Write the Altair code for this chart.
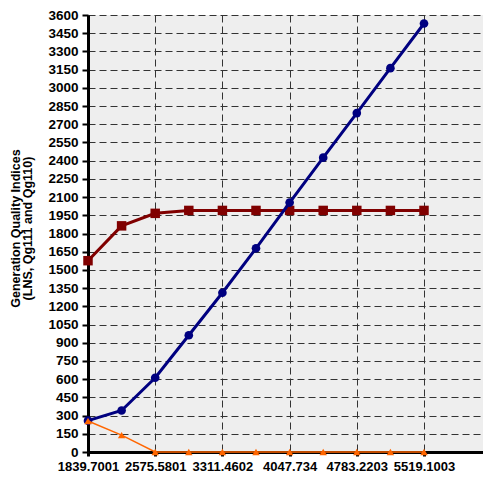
import altair as alt
import pandas as pd

x_vals = [1839.7001, 2207.64, 2575.5801, 2943.52, 3311.4602, 3679.40,
          4047.734, 4415.28, 4783.2203, 5151.16, 5519.1003]
lns = [258, 342, 612, 962, 1312, 1678, 2055, 2425, 2792, 3162, 3530]
qg111 = [1576, 1863, 1966, 1990, 1990, 1990, 1990, 1990, 1990, 1990, 1990]
qg110 = [255, 139, 0, 0, 0, 0, 0, 0, 0, 0, 0]
x_ticks = [1839.7001, 2575.5801, 3311.4602, 4047.734, 4783.2203, 5519.1003]
x_domain = [1839.7001, 6165.2]
y_ticks = list(range(0, 3601, 150))

series_names = ["Qg111", "LNS", "Qg110"]
series_vals = [qg111, lns, qg110]
colors = ["#800000", "#000080", "#FF6600"]
shapes = ["square", "circle", "triangle-up"]
sizes = [90, 75, 55]
widths = [3, 3, 1.5]

rows = []
for name, vals in zip(series_names, series_vals):
    for xv, yv in zip(x_vals, vals):
        rows.append({"x": xv, "y": yv, "series": name})
df = pd.DataFrame(rows)

FONT = "Liberation Sans"

xenc = alt.X("x:Q", scale=alt.Scale(domain=x_domain, nice=False, zero=False),
             axis=alt.Axis(values=x_ticks, title=None,
                           labelExpr="format(datum.value, '.4~f')",
                           labelFont=FONT, labelFontWeight="bold", labelFontSize=13,
                           labelColor="black", labelPadding=4,
                           domainColor="black", domainWidth=3,
                           tickColor="black", tickWidth=3, tickSize=4,
                           grid=True, gridColor="#333333", gridDash=[7, 4], gridWidth=1,
                           labelFlush=False, labelOverlap=False))
yenc = alt.Y("y:Q", scale=alt.Scale(domain=[0, 3600], nice=False),
             axis=alt.Axis(values=y_ticks, format="d",
                           title=["Generation Quality Indices", "(LNS, Qg111 and Qg110)"],
                           titleFont=FONT, titleFontWeight="bold", titleFontSize=12.5,
                           titleLineHeight=12, titleColor="black",
                           titleX=-72.5, titleY=213, titleBaseline="middle", titleAngle=-90,
                           titleAlign="center",
                           labelFont=FONT, labelFontWeight="bold", labelFontSize=13.5,
                           labelColor="black", labelPadding=4,
                           domainColor="black", domainWidth=3,
                           tickColor="black", tickWidth=2, tickSize=6,
                           grid=True, gridColor="#333333", gridDash=[7, 4], gridWidth=1,
                           labelOverlap=False))

layers = []
for name, c, sh, sz, w in zip(series_names, colors, shapes, sizes, widths):
    sub = df[df.series == name]
    line = alt.Chart(sub).mark_line(color=c, strokeWidth=w).encode(x=xenc, y=yenc)
    pts = alt.Chart(sub).mark_point(color=c, filled=True, opacity=1, shape=sh, size=sz).encode(x=xenc, y=yenc)
    layers += [line, pts]

chart = alt.layer(*layers).properties(
    width=395, height=437,
    autosize=alt.AutoSizeParams(type="none"),
    padding={"left": 80, "top": 7, "right": 0, "bottom": 22},
).configure_view(fill="#EEEEEE", stroke=None)

chart.save("out.html", embed_options={"renderer": "svg", "actions": False})
